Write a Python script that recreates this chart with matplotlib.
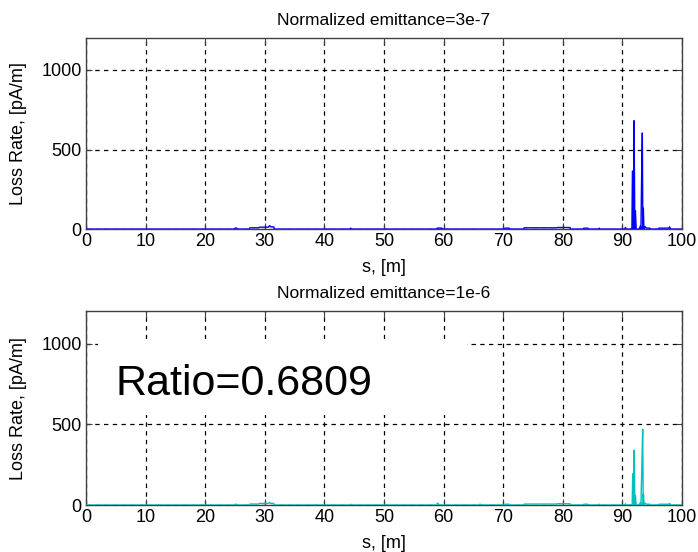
import numpy as np
import matplotlib
matplotlib.use('Agg')
import matplotlib.pyplot as plt
from matplotlib.patches import Rectangle

plt.rcParams['font.family'] = ['Liberation Sans', 'DejaVu Sans']

# top panel: emittance 3e-7
s_top = [0, 24.9, 25.0, 25.3, 25.4, 27.4, 27.5, 29.0, 29.1, 30.6, 30.8, 31.0, 31.5, 31.6,
         44.3, 44.4, 44.5, 58.8, 58.9, 59.7, 59.8, 70.2, 70.3, 71.0, 71.1,
         73.4, 73.5, 79.0, 79.1, 81.2, 81.3, 83.4, 83.5, 84.2, 84.3, 86.0, 86.1, 86.2,
         90.4, 90.5, 90.6, 91.58, 91.67, 91.85, 91.94, 92.08, 92.17, 92.3, 92.8, 93.0,
         93.1, 93.2, 93.33, 93.42, 93.5, 93.6, 93.8, 94.0, 94.6, 94.7, 96.0, 96.1,
         97.8, 97.9, 98.0, 98.1, 100]
loss_top = [0, 0, 6, 6, 0, 0, 8, 8, 12, 12, 22, 14, 14, 0,
            0, 6, 0, 0, 6, 6, 0, 0, 6, 6, 0,
            0, 8, 8, 10, 10, 0, 0, 6, 6, 0, 0, 6, 0,
            0, 10, 0, 0, 365, 0, 681, 0, 115, 0, 0, 20,
            0, 302, 604, 0, 131, 0, 15, 6, 6, 0, 0, 6,
            6, 14, 6, 0, 0]

# bottom panel: emittance 1e-6
s_bot = [0, 24.9, 25.0, 25.2, 25.3, 27.4, 27.5, 29.0, 29.1, 30.6, 30.8, 31.0, 31.5, 31.6,
         44.3, 44.4, 44.5, 58.8, 59.0, 59.3, 66.0, 66.1, 66.2, 70.2, 70.3, 71.0, 71.1,
         73.4, 73.5, 79.0, 79.1, 81.2, 81.3, 83.4, 83.5, 84.2, 84.3, 86.0, 86.1, 86.2,
         90.4, 90.5, 90.6, 91.63, 91.72, 91.88, 91.97, 92.08, 92.17, 92.3, 92.8, 93.0,
         93.1, 93.25, 93.39, 93.48, 93.52, 93.62, 93.8, 94.0, 94.6, 94.7, 96.0, 96.1,
         97.8, 97.9, 98.0, 98.1, 100]
loss_bot = [0, 0, 5, 5, 0, 0, 6, 6, 10, 10, 16, 10, 10, 0,
            0, 5, 0, 0, 12, 0, 0, 6, 0, 0, 5, 5, 0,
            0, 6, 6, 8, 8, 0, 0, 5, 5, 0, 0, 5, 0,
            0, 8, 0, 0, 194, 0, 340, 0, 56, 0, 0, 15,
            0, 240, 469, 0, 67, 0, 12, 5, 5, 0, 0, 5,
            5, 10, 5, 0, 0]

titles = ['Normalized emittance=3e-7', 'Normalized emittance=1e-6']
colors = ['#0000ff', '#00bfbf']
ratio_text = 'Ratio=0.6809'

fig = plt.figure(figsize=(6.98, 5.52), dpi=100)
ax1 = fig.add_axes([0.1232, 0.585, 0.854, 0.346])
ax2 = fig.add_axes([0.1232, 0.0851, 0.854, 0.351])

for ax, s, loss, title, c in zip([ax1, ax2], [s_top, s_bot], [loss_top, loss_bot], titles, colors):
    ax.plot(s, loss, color=c, linewidth=1.0, zorder=3)
    ax.set_xlim(0, 100)
    ax.set_ylim(0, 1200)
    ax.set_xticks(np.arange(0, 101, 10))
    ax.set_yticks([0, 500, 1000])
    ax.grid(True, color='black', linestyle=(0, (3.5, 3.5)), linewidth=0.9)
    ax.tick_params(direction='in', length=4, labelsize=13, top=True, right=True,
                   color='#404040', pad=3)
    for sp in ax.spines.values():
        sp.set_color('#404040')
        sp.set_linewidth(1.0)
    ax.set_title(title, fontsize=12.5, pad=9.5)
    ax.set_xlabel('s, [m]', fontsize=13, labelpad=6)
    ax.set_ylabel('Loss Rate, [pA/m]', fontsize=13)
    ax.yaxis.set_label_coords(-0.099, 0.5)

# white box behind the ratio label (covers the grid)
ax2.add_patch(Rectangle((2.0, 560), 62.0, 470, facecolor='white', edgecolor='none', zorder=2))
ax2.text(5.0, 679, ratio_text, fontsize=31, color='black', zorder=4)

fig.savefig('out.png', dpi=100)
